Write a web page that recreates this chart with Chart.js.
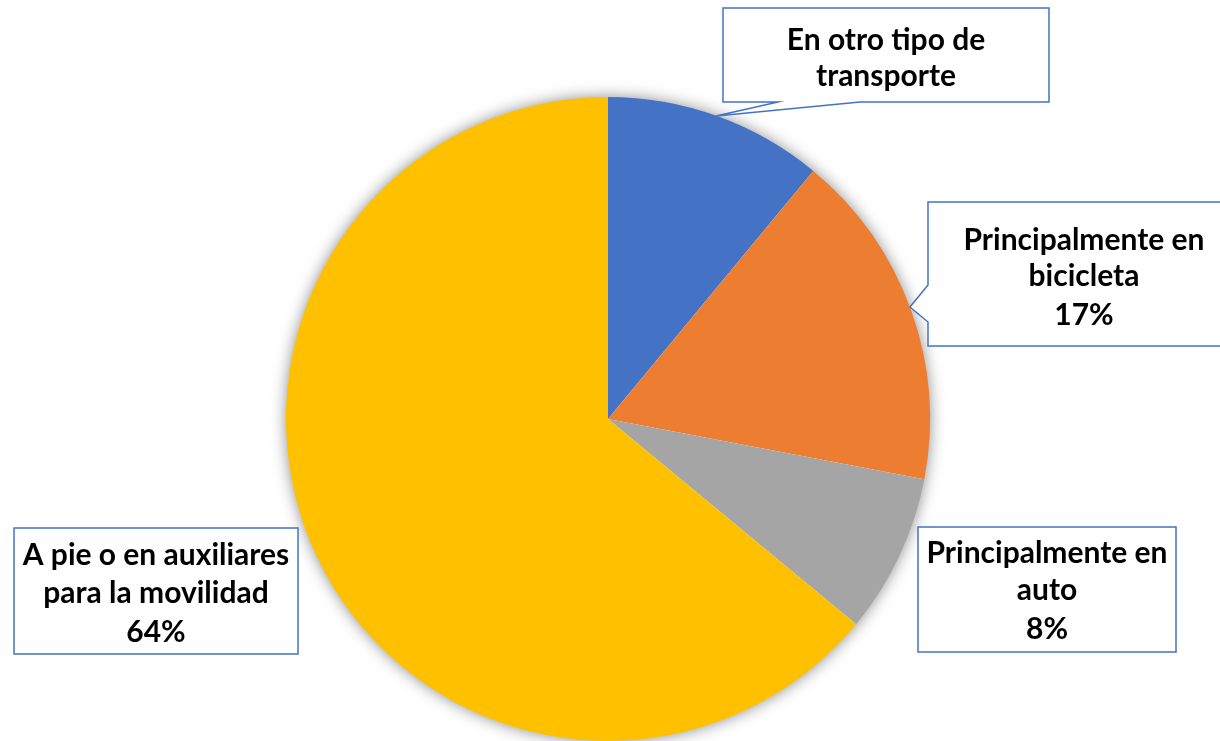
<!DOCTYPE html>
<html>
<head>
<meta charset="utf-8">
<script src="https://cdn.jsdelivr.net/npm/chart.js@4"></script>
<style>
  html, body { margin: 0; padding: 0; background: #fff; }
  #wrap { width: 1220px; height: 741px; }
</style>
</head>
<body>
<div id="wrap"><canvas id="pieChart" width="1220" height="741"></canvas></div>
<script>
// Medio de transporte (porcentaje)
const categories = [
  'En otro tipo de transporte',
  'Principalmente en bicicleta',
  'Principalmente en auto',
  'A pie o en auxiliares para la movilidad'
];
const values = [11, 17, 8, 64];
const colors = ['#4472C4', '#ED7D31', '#A5A5A5', '#FFC000'];
// text lines of each callout (the percentage is appended when shown)
const labelLines = [
  ['En otro tipo de', 'transporte'],
  ['Principalmente en', 'bicicleta'],
  ['Principalmente en', 'auto'],
  ['A pie o en auxiliares', 'para la movilidad']
];
const showPercent = [false, true, true, true];

// callout boxes: x, y, w, h, text center, line offsets, pointer
const boxes = [
  { x: 723, y: 8, w: 326, h: 94, cx: 886, lines: [40, 76],
    pointer: { side: 'bottom', a: 778, b: 860, tip: [716, 116] } },
  { x: 928, y: 202, w: 300, h: 144, cx: 1084, lines: [240, 276, 315],
    pointer: { side: 'left', a: 285, b: 322, tip: [910, 307] } },
  { x: 918, y: 527, w: 258, h: 125, cx: 1047, lines: [553, 590, 629] },
  { x: 14, y: 528, w: 284, h: 126, cx: 156, lines: [555, 593, 632] }
];

const shadowPlugin = {
  id: 'pieShadow',
  beforeDatasetsDraw(chart) {
    const arc = chart.getDatasetMeta(0).data[0];
    if (!arc) return;
    const ctx = chart.ctx;
    ctx.save();
    ctx.shadowColor = 'rgba(0,0,0,0.5)';
    ctx.shadowBlur = 16;
    ctx.beginPath();
    ctx.arc(arc.x, arc.y, arc.outerRadius - 1, 0, Math.PI * 2);
    ctx.fillStyle = '#ffffff';
    ctx.fill();
    ctx.restore();
  }
};

const calloutPlugin = {
  id: 'callouts',
  afterDatasetsDraw(chart) {
    const ctx = chart.ctx;
    const total = values.reduce((s, v) => s + v, 0);
    ctx.save();
    // size font so "Principalmente en" matches the reference width
    ctx.font = 'bold 100px Lato, "Open Sans", sans-serif';
    const fs = Math.round(100 * 242 / ctx.measureText('Principalmente en').width);
    boxes.forEach((b, i) => {
      const p = b.pointer;
      ctx.beginPath();
      ctx.moveTo(b.x, b.y);
      ctx.lineTo(b.x + b.w, b.y);
      ctx.lineTo(b.x + b.w, b.y + b.h);
      if (p && p.side === 'bottom') {
        ctx.lineTo(p.b, b.y + b.h);
        ctx.lineTo(p.tip[0], p.tip[1]);
        ctx.lineTo(p.a, b.y + b.h);
      }
      ctx.lineTo(b.x, b.y + b.h);
      if (p && p.side === 'left') {
        ctx.lineTo(b.x, p.b);
        ctx.lineTo(p.tip[0], p.tip[1]);
        ctx.lineTo(b.x, p.a);
      }
      ctx.closePath();
      ctx.fillStyle = '#ffffff';
      ctx.fill();
      ctx.strokeStyle = '#4472C4';
      ctx.lineWidth = 1.5;
      ctx.stroke();

      const lines = labelLines[i].slice();
      if (showPercent[i]) lines.push(Math.round(values[i] / total * 100) + '%');
      ctx.fillStyle = '#000000';
      ctx.font = 'bold ' + fs + 'px Lato, "Open Sans", sans-serif';
      ctx.textAlign = 'center';
      ctx.textBaseline = 'middle';
      lines.forEach((t, k) => ctx.fillText(t, b.cx, b.lines[k]));
    });
    ctx.restore();
  }
};

new Chart(document.getElementById('pieChart'), {
  type: 'pie',
  data: {
    labels: categories,
    datasets: [{
      data: values,
      backgroundColor: colors,
      borderWidth: 0
    }]
  },
  options: {
    responsive: false,
    animation: false,
    layout: { padding: { top: 97, bottom: 0, left: 100, right: 104 } },
    plugins: { legend: { display: false }, tooltip: { enabled: false } }
  },
  plugins: [shadowPlugin, calloutPlugin]
});
</script>
</body>
</html>
